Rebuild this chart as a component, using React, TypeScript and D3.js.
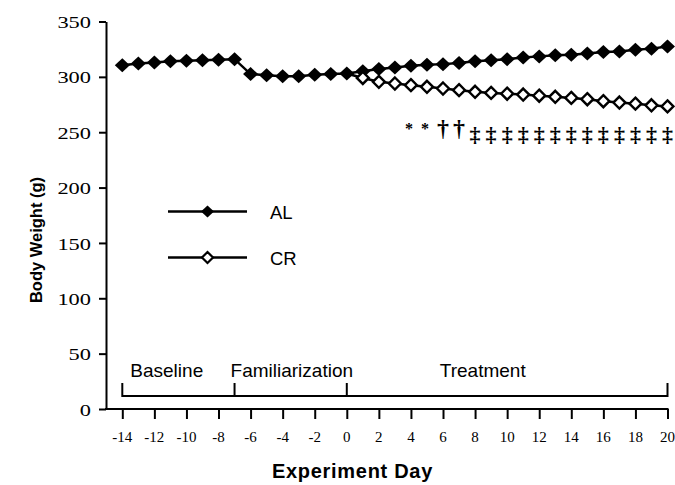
import { useEffect, useRef } from "react"
import * as d3 from "d3"

// Body weight by experiment day
const days = [
  -14, -13, -12, -11, -10, -9, -8, -7, -6, -5, -4, -3, -2, -1, 0,
  1, 2, 3, 4, 5, 6, 7, 8, 9, 10, 11, 12, 13, 14, 15, 16, 17, 18, 19, 20,
]
const alValues = [
  310.5, 312, 313, 314, 314.5, 315, 315.5, 316, 302.5, 301.5, 300.5, 300.5, 302, 302.5, 303,
  305, 307, 308.5, 310, 311, 311.5, 312.5, 314, 315, 316, 317.5, 318.5, 319.5, 320, 321,
  322.5, 323, 324.5, 325.5, 327.5,
]
const crDays = [0, 1, 2, 3, 4, 5, 6, 7, 8, 9, 10, 11, 12, 13, 14, 15, 16, 17, 18, 19, 20]
const crValues = [
  303, 299, 295.5, 294, 292.5, 291, 289.5, 288, 286.5, 285.5, 284.8, 284, 283, 282, 281,
  279.8, 278, 276.8, 275.8, 274.3, 273.3,
]
const seriesNames = ["AL", "CR"]

const sigDays = [4, 5, 6, 7, 8, 9, 10, 11, 12, 13, 14, 15, 16, 17, 18, 19, 20]
const sigMarks = ["*", "*", "†", "†", "‡", "‡", "‡", "‡", "‡", "‡", "‡", "‡", "‡", "‡", "‡", "‡", "‡"]

const phaseNames = ["Baseline", "Familiarization", "Treatment"]
const phaseBounds = [-14, -7, 0, 20]

const yTicks = [0, 50, 100, 150, 200, 250, 300, 350]
const xTicks = [-14, -12, -10, -8, -6, -4, -2, 0, 2, 4, 6, 8, 10, 12, 14, 16, 18, 20]

const SERIF = "'Liberation Serif', 'Times New Roman', serif"
const SANS = "'Liberation Sans', Arial, sans-serif"

const diamond = (w: number, h: number) => `M0,${-h}L${w},0L0,${h}L${-w},0Z`

export default function App() {
  const svgRef = useRef<SVGSVGElement>(null)

  useEffect(() => {
    if (!svgRef.current) return
    const svg = d3.select(svgRef.current)
    svg.selectAll("*").remove()

    const x = d3.scaleLinear().domain([-14, 20]).range([122.3, 667.5])
    const y = d3.scaleLinear().domain([0, 350]).range([409, 21.5])
    const axisX = 106

    // Y axis
    const yAxis = svg
      .append("g")
      .attr("transform", `translate(${axisX},0)`)
      .call(d3.axisLeft(y).tickValues(yTicks).tickSize(7).tickSizeOuter(0).tickFormat(() => ""))
    yAxis.selectAll("path, line").attr("stroke", "#000").attr("stroke-width", 2)

    yTicks.forEach((v) => {
      svg
        .append("text")
        .attr("transform", `translate(91,${y(v) + 6.6}) scale(1.4,1)`)
        .attr("text-anchor", "end")
        .attr("fill", "#000")
        .style("font-family", SERIF)
        .style("font-size", "16px")
        .text(String(v))
    })

    // X axis
    svg
      .append("line")
      .attr("x1", axisX - 1)
      .attr("x2", x(20) + 1)
      .attr("y1", y(0))
      .attr("y2", y(0))
      .attr("stroke", "#000")
      .attr("stroke-width", 2)
    const xAxis = svg
      .append("g")
      .attr("transform", `translate(0,${y(0)})`)
      .call(d3.axisBottom(x).tickValues(xTicks).tickSize(10).tickSizeOuter(0).tickFormat(() => ""))
    xAxis.select(".domain").remove()
    xAxis.selectAll("line").attr("stroke", "#000").attr("stroke-width", 2)

    xTicks.forEach((v) => {
      svg
        .append("text")
        .attr("x", x(v))
        .attr("y", 442)
        .attr("text-anchor", "middle")
        .attr("fill", "#000")
        .style("font-family", SERIF)
        .style("font-size", "15px")
        .text(String(v))
    })

    // Axis titles
    svg
      .append("text")
      .attr("x", 272)
      .attr("y", 478)
      .attr("fill", "#000")
      .style("font-family", SANS)
      .style("font-weight", "bold")
      .style("font-size", "20px")
      .style("letter-spacing", "0.7px")
      .text("Experiment Day")

    svg
      .append("text")
      .attr("transform", "translate(42,240) rotate(-90)")
      .attr("text-anchor", "middle")
      .attr("fill", "#000")
      .style("font-family", SANS)
      .style("font-weight", "bold")
      .style("font-size", "16.5px")
      .text("Body Weight (g)")

    // Phase bracket
    const bracketY = 396
    svg
      .append("line")
      .attr("x1", x(phaseBounds[0]))
      .attr("x2", x(phaseBounds[phaseBounds.length - 1]))
      .attr("y1", bracketY)
      .attr("y2", bracketY)
      .attr("stroke", "#000")
      .attr("stroke-width", 2)
    phaseBounds.forEach((d) => {
      svg
        .append("line")
        .attr("x1", x(d))
        .attr("x2", x(d))
        .attr("y1", bracketY + 1)
        .attr("y2", bracketY - 13)
        .attr("stroke", "#000")
        .attr("stroke-width", 2)
    })
    const phaseLabelAt = [-13.5, -7.25, 5.8]
    phaseNames.forEach((name, i) => {
      svg
        .append("text")
        .attr("x", x(phaseLabelAt[i]))
        .attr("y", 376.7)
        .attr("fill", "#000")
        .style("font-family", SANS)
        .style("font-size", "19px")
        .text(name)
    })

    // Lines
    const line = d3
      .line<[number, number]>()
      .x((d) => x(d[0]))
      .y((d) => y(d[1]))

    const alData: [number, number][] = days.map((d, i) => [d, alValues[i]])
    const crData: [number, number][] = crDays.map((d, i) => [d, crValues[i]])

    svg
      .append("path")
      .attr("d", line(alData) as string)
      .attr("fill", "none")
      .attr("stroke", "#000")
      .attr("stroke-width", 2.5)

    svg
      .selectAll(".al")
      .data(alData)
      .enter()
      .append("path")
      .attr("transform", (d) => `translate(${x(d[0])},${y(d[1])})`)
      .attr("d", diamond(7.5, 7))
      .attr("fill", "#000")

    svg
      .append("path")
      .attr("d", line(crData) as string)
      .attr("fill", "none")
      .attr("stroke", "#000")
      .attr("stroke-width", 2.5)

    // groups are identical on day 0, so the open marker starts at day 1
    svg
      .selectAll(".cr")
      .data(crData.filter((d) => d[0] > 0))
      .enter()
      .append("path")
      .attr("transform", (d) => `translate(${x(d[0])},${y(d[1])})`)
      .attr("d", diamond(6, 6))
      .attr("fill", "#fff")
      .attr("stroke", "#000")
      .attr("stroke-width", 2.4)

    // Significance marks
    sigDays.forEach((d, i) => {
      const m = sigMarks[i]
      const size = m === "*" ? 16 : m === "†" ? 24 : 22
      const base = m === "*" ? 134 : m === "†" ? 136 : 141.5
      svg
        .append("text")
        .attr("x", x(d) - (m === "*" ? 2 : 0))
        .attr("y", base)
        .attr("text-anchor", "middle")
        .attr("fill", "#000")
        .style("font-family", SERIF)
        .style("font-weight", "bold")
        .style("font-size", `${size}px`)
        .text(m)
    })

    // Legend
    const legendY = [211.5, 257.5]
    seriesNames.forEach((name, i) => {
      const g = svg.append("g").attr("transform", `translate(0,${legendY[i]})`)
      g.append("line")
        .attr("x1", 168)
        .attr("x2", 247)
        .attr("stroke", "#000")
        .attr("stroke-width", 2.5)
      if (i === 0) {
        g.append("path").attr("transform", "translate(207.5,0)").attr("d", diamond(6.5, 6)).attr("fill", "#000")
      } else {
        g.append("path")
          .attr("transform", "translate(207.5,0)")
          .attr("d", diamond(5.5, 5.5))
          .attr("fill", "#fff")
          .attr("stroke", "#000")
          .attr("stroke-width", 2.2)
      }
      g.append("text")
        .attr("x", 270)
        .attr("y", 7.5)
        .attr("fill", "#000")
        .style("font-family", SANS)
        .style("font-size", "18.5px")
        .text(name)
    })
  }, [])

  return (
    <svg
      ref={svgRef}
      width={675}
      height={485}
      style={{ position: "absolute", left: 0, top: 0, background: "#fff" }}
    ></svg>
  )
}
